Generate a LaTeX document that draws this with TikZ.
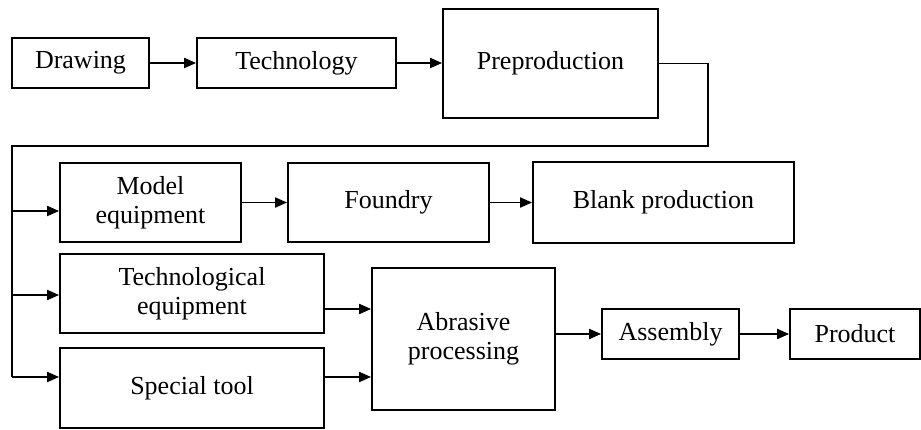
\documentclass[tikz,border=0pt]{standalone}
\usepackage{fontspec}
\setmainfont{Liberation Serif}
\usetikzlibrary{arrows.meta}
\begin{document}
\begin{tikzpicture}[x=1pt,y=-1pt,
  box/.style={draw,line width=1.8pt,inner sep=0pt,align=center,
    font=\fontsize{26}{29}\selectfont},
  conn/.style={line width=1.8pt},
  arr/.style={line width=1.8pt,-{Triangle[length=12pt,width=10pt]}}]
\useasboundingbox (0,0) rectangle (921,430);
\node[box,minimum width=137pt,minimum height=50pt] (draw) at (80.5,63) {Drawing};
\node[box,minimum width=199pt,minimum height=50pt] (tech) at (296.5,63) {Technology};
\node[box,minimum width=215pt,minimum height=109pt] (prep) at (550.5,63.5) {Preproduction};
\node[box,minimum width=181pt,minimum height=79pt] (model) at (150.5,202.5) {Model\\equipment};
\node[box,minimum width=201pt,minimum height=79pt] (foundry) at (388.5,202.5) {Foundry};
\node[box,minimum width=261pt,minimum height=81pt] (blank) at (663.5,202.5) {Blank production};
\node[box,minimum width=264pt,minimum height=79pt] (techeq) at (192,293.5) {Technological\\equipment};
\node[box,minimum width=264pt,minimum height=80pt] (special) at (192,388) {Special tool};
\node[box,minimum width=183pt,minimum height=142pt] (abr) at (463.5,339) {Abrasive\\processing};
\node[box,minimum width=137pt,minimum height=50pt] (assy) at (670.5,334) {Assembly};
\node[box,minimum width=130pt,minimum height=50pt] (prod) at (855,334) {Product};
\draw[arr] (draw) -- (tech);
\draw[arr] (tech) -- (tech -| prep.west);
\coordinate (c1) at (708,146);
\coordinate (c2) at (12,146);
\coordinate (t1) at (12,211);
\coordinate (t2) at (12,295);
\coordinate (t3) at (12,377);
\draw[conn] (prep.east) -| (c1) -- (c2) -- (t3);
\draw[arr] (t1) -- (t1 -| model.west);
\draw[arr] (t2) -- (t2 -| techeq.west);
\draw[arr] (t3) -- (t3 -| special.west);
\draw[arr] (model) -- (foundry);
\draw[arr] (foundry) -- (blank);
\coordinate (a1) at (techeq.east |- 0,309);
\coordinate (a2) at (special.east |- 0,377);
\draw[arr] (a1) -- (a1 -| abr.west);
\draw[arr] (a2) -- (a2 -| abr.west);
\draw[arr] (abr.east |- assy) -- (assy);
\draw[arr] (assy) -- (prod);
\end{tikzpicture}
\end{document}
